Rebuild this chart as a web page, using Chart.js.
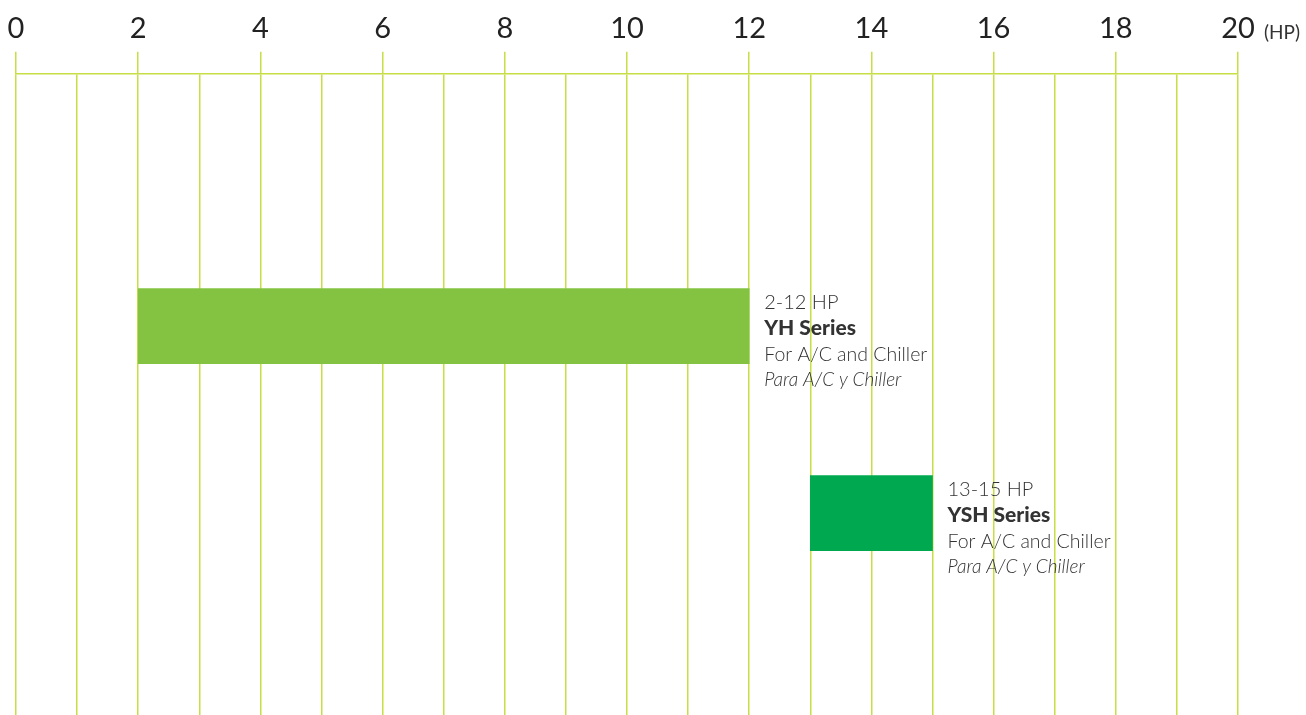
<!DOCTYPE html>
<html>
<head>
<meta charset="utf-8">
<script src="https://cdn.jsdelivr.net/npm/chart.js@4"></script>
<style>
html,body{margin:0;padding:0;background:#fff;}
#wrap{width:1306px;height:715px;position:relative;}
</style>
</head>
<body>
<div id="wrap"><canvas id="c" width="1306" height="715"></canvas></div>
<script>
// ---- data ----
const categories = ['YH Series', 'YSH Series'];
const rangeLabels = ['2-12 HP', '13-15 HP'];
const hpMin = [2, 13];
const hpMax = [12, 15];
const usageEn = ['For A/C and Chiller', 'For A/C and Chiller'];
const usageEs = ['Para A/C y Chiller', 'Para A/C y Chiller'];
const rowPos = [1, 2];
const xMin = 0, xMax = 20, xStep = 1, labelEvery = 2;
const unitLabel = '(HP)';
const barColors = ['#84c341', '#00a84f'];

const gridColor = '#c8de45';
const textColor = '#333333';
const FONT = 'Lato, "Open Sans", sans-serif';

const seriesLabels = {
  id: 'seriesLabels',
  afterDatasetsDraw(chart) {
    const ctx = chart.ctx;
    const meta = chart.getDatasetMeta(0);
    ctx.save();
    ctx.fillStyle = textColor;
    ctx.textAlign = 'left';
    ctx.textBaseline = 'alphabetic';
    meta.data.forEach((el, i) => {
      const x = el.x + 15;
      const top = el.y - el.height / 2;
      ctx.font = '300 20px ' + FONT;
      ctx.fillText(rangeLabels[i], x, top + 20);
      ctx.font = '900 21px ' + FONT;
      ctx.fillText(categories[i], x, top + 46);
      ctx.font = '300 19.5px ' + FONT;
      ctx.fillText(usageEn[i], x, top + 72);
      ctx.font = 'italic 300 19px ' + FONT;
      ctx.fillText(usageEs[i], x, top + 97);
    });
    ctx.font = '19px ' + FONT;
    ctx.fillStyle = textColor;
    ctx.fillText(unitLabel, chart.chartArea.right + 26, 39);
    ctx.restore();
  }
};

new Chart(document.getElementById('c'), {
  type: 'bar',
  data: {
    datasets: [{
      data: categories.map((c, i) => ({ y: rowPos[i], x: [hpMin[i], hpMax[i]] })),
      backgroundColor: barColors,
      borderWidth: 0,
      borderSkipped: false,
      barThickness: 75
    }]
  },
  options: {
    indexAxis: 'y',
    responsive: false,
    animation: false,
    devicePixelRatio: 1,
    layout: { padding: { left: 16, right: 68, top: 5, bottom: 0 } },
    plugins: { legend: { display: false }, tooltip: { enabled: false } },
    scales: {
      x: {
        type: 'linear',
        position: 'top',
        min: xMin, max: xMax,
        ticks: {
          stepSize: xStep,
          autoSkip: false,
          maxRotation: 0,
          padding: 6,
          color: '#222',
          font: { family: FONT, size: 29, weight: '400' },
          callback: v => (v % labelEvery === 0 ? String(v) : '')
        },
        grid: {
          color: gridColor,
          lineWidth: 1.5,
          tickLength: 22,
          tickColor: ctx => (ctx.tick && ctx.tick.value % labelEvery === 0 ? gridColor : 'rgba(0,0,0,0)'),
          drawOnChartArea: true
        },
        border: { display: true, color: gridColor, width: 1.5 }
      },
      y: {
        type: 'linear',
        reverse: true,
        offset: false,
        min: -0.35, max: 3.08,
        display: false,
        grid: { display: false }
      }
    }
  },
  plugins: [seriesLabels]
});
</script>
</body>
</html>
